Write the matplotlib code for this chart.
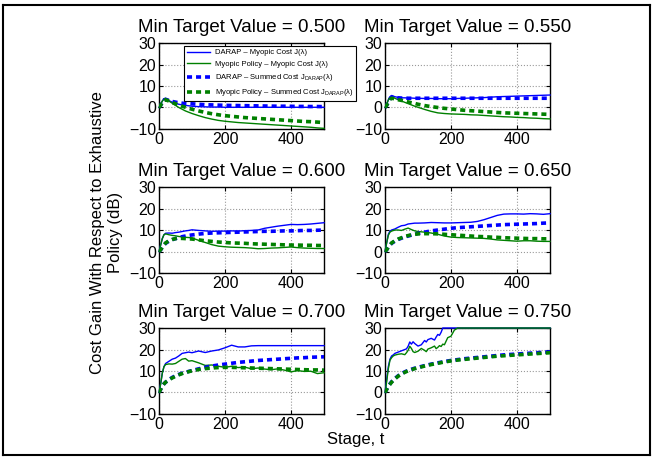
import matplotlib
matplotlib.use("Agg")
import matplotlib.pyplot as plt

plt.rcParams['font.family'] = ['Liberation Sans', 'DejaVu Sans']
plt.rcParams['mathtext.fontset'] = 'custom'
plt.rcParams['mathtext.rm'] = 'Liberation Sans'

# stage samples shared by most curves
stages = [0, 5, 10, 15, 20, 30, 40, 50, 60, 70, 80, 90, 100, 120, 140, 160, 180,
          200, 220, 240, 260, 280, 300, 320, 340, 360, 380, 400, 420, 440, 460, 480, 500]

# finer samples for the noisy curves at min target 0.750
stages_fine = [0, 5, 10, 15, 20, 25, 30, 40, 50, 60, 65, 70, 75, 80, 85, 90, 100, 110,
               120, 125, 130, 140, 150, 155, 160, 165, 170, 175, 180, 190, 200, 210, 220,
               240, 260, 280, 300, 320, 340, 360, 380, 400, 420, 440, 460, 480, 500]

targets = ['0.500', '0.550', '0.600', '0.650', '0.700', '0.750']

# min target 0.500
p500_darap_myopic = [0, 1.5, 3, 4, 4.2, 3.2, 2.5, 2, 1.5, 1.2, 1, 0.8, 0.6, 0.4, 0.3, 0.2, 0.2,
                     0.1, 0.1, 0.1, 0.1, 0.1, 0.1, 0.1, 0.1, 0.1, 0.1, 0.1, 0.1, 0.1, 0.1, 0.1, 0.1]
p500_myopic_myopic = [0, 1.5, 3, 4, 4.3, 3, 2, 1, 0, -0.8, -1.6, -2.2, -2.8, -3.8, -4.7, -5.4, -6,
                      -6.4, -6.7, -7, -7.2, -7.4, -7.6, -7.8, -8, -8.2, -8.4, -8.6, -8.8, -9, -9.2, -9.5, -9.7]
p500_darap_summed = [0, 1, 2.5, 3.5, 3.8, 3.3, 2.8, 2.5, 2.2, 2, 1.9, 1.8, 1.7, 1.5, 1.3, 1.2, 1.1,
                     1, 0.95, 0.9, 0.85, 0.8, 0.75, 0.7, 0.65, 0.6, 0.6, 0.55, 0.5, 0.5, 0.45, 0.45, 0.4]
p500_myopic_summed = [0, 1, 2.5, 3.3, 3.6, 3, 2.3, 1.7, 1.1, 0.6, 0.1, -0.4, -0.8, -1.6, -2.3, -2.9, -3.4,
                      -3.8, -4.1, -4.4, -4.7, -4.9, -5.1, -5.3, -5.5, -5.7, -5.9, -6.1, -6.3, -6.5, -6.6, -6.8, -7]

# min target 0.550
p550_darap_myopic = [0, 1.5, 3.5, 5, 5.6, 5, 4.7, 4.5, 4.5, 4.4, 4.4, 4.3, 4.3, 4.2, 4.2, 4.1, 4.1,
                     4.1, 4.2, 4.3, 4.4, 4.5, 4.6, 4.8, 5, 5.1, 5.2, 5.3, 5.4, 5.5, 5.6, 5.7, 5.8]
p550_myopic_myopic = [0, 1.5, 3.5, 4.6, 5, 4.3, 3.6, 3, 2.4, 1.8, 1.2, 0.6, 0.1, -0.9, -1.8, -2.5, -2.8,
                      -3, -3.1, -3.2, -3.4, -3.5, -3.7, -3.9, -4.1, -4.3, -4.4, -4.6, -4.7, -4.9, -5, -5.2, -5.3]
p550_darap_summed = [0, 1, 2.5, 4, 4.8, 4.7, 4.5, 4.4, 4.4, 4.3, 4.3, 4.3, 4.3, 4.3, 4.3, 4.3, 4.3,
                     4.3, 4.3, 4.3, 4.3, 4.3, 4.3, 4.3, 4.3, 4.3, 4.3, 4.3, 4.3, 4.3, 4.3, 4.3, 4.3]
p550_myopic_summed = [0, 1, 2.5, 3.8, 4.3, 4, 3.6, 3.3, 3, 2.6, 2.2, 1.9, 1.5, 0.9, 0.4, 0, -0.4,
                      -0.7, -1, -1.3, -1.5, -1.7, -1.9, -2.1, -2.3, -2.5, -2.6, -2.7, -2.8, -2.9, -3, -3.1, -3.2]

# min target 0.600
p600_darap_myopic = [0, 3, 6, 7.8, 8.5, 8.6, 8.5, 8.8, 9, 9.3, 9.6, 9.8, 10.1, 9.8, 9.6, 9.4, 9.5,
                     9.5, 9.6, 9.5, 9.7, 9.8, 10, 10.8, 11.3, 11.8, 12.2, 12.6, 12.5, 12.6, 12.8, 13.1, 13.4]
p600_myopic_myopic = [0, 3, 6, 7.8, 8.2, 7.8, 7.5, 7.3, 7, 6.8, 6.6, 6.5, 6.3, 5.2, 4.2, 3.2, 2.5,
                      2.2, 2, 1.9, 1.8, 1.6, 1.3, 1.4, 1.6, 1.7, 1.9, 2.1, 1.8, 1.6, 1.5, 1.4, 1.4]
p600_darap_summed = [0, 0.8, 2, 3, 3.8, 4.8, 5.5, 6, 6.5, 6.9, 7.2, 7.5, 7.7, 8.1, 8.4, 8.6, 8.7,
                     8.8, 8.9, 9, 9.1, 9.2, 9.3, 9.4, 9.4, 9.5, 9.6, 9.6, 9.7, 9.8, 9.8, 9.9, 10]
p600_myopic_summed = [0, 0.8, 2, 3, 4, 5, 5.6, 6, 6.1, 6.1, 6, 5.9, 5.8, 5.4, 5, 4.7, 4.4,
                      4.2, 4, 3.9, 3.8, 3.6, 3.5, 3.4, 3.3, 3.2, 3.1, 3, 3, 2.9, 2.9, 2.8, 2.8]

# min target 0.650
p650_darap_myopic = [0, 4, 8, 9.5, 10, 10.5, 11.3, 12, 12.2, 12.8, 13, 13.2, 13.2, 13.3, 13.5, 13.4, 13.3,
                     13.3, 13.4, 13.5, 13.6, 14, 14.8, 15.8, 16.8, 17.4, 17.5, 17.5, 17.4, 17.6, 17.5, 17.3, 17.6]
p650_myopic_myopic = [0, 4, 7.5, 9, 9.5, 10, 10, 9.8, 10.4, 10.9, 10.2, 9.6, 9.3, 9, 8.6, 8, 7.2,
                      6.7, 6.5, 6.4, 6.3, 6.2, 6.1, 5.8, 5.4, 5.2, 5, 4.8, 5, 5, 4.8, 4.7, 4.7]
p650_darap_summed = [0, 0.8, 2, 3, 3.8, 4.8, 5.6, 6.2, 6.8, 7.2, 7.6, 8, 8.4, 9, 9.6, 10, 10.4,
                     10.8, 11.1, 11.3, 11.5, 11.7, 11.9, 12.1, 12.3, 12.5, 12.6, 12.7, 12.8, 12.9, 13, 13.2, 13.3]
p650_myopic_summed = [0, 0.8, 2, 3, 4, 5, 5.8, 6.4, 7, 7.4, 7.8, 8, 8.2, 8.3, 8.3, 8.2, 8,
                      7.8, 7.6, 7.4, 7.2, 7, 6.9, 6.7, 6.6, 6.4, 6.3, 6.2, 6.1, 6, 6, 5.9, 5.9]

# min target 0.700
p700_darap_myopic = [0, 4, 9, 12, 13.5, 14.5, 15.5, 16, 17, 18.2, 18.5, 18.8, 18.5, 19.3, 18.6, 19.3, 19.8,
                     20.8, 22, 21.2, 21.2, 21.7, 21.8, 21.8, 21.8, 21.8, 21.8, 21.8, 21.8, 21.8, 21.8, 21.8, 21.8]
p700_myopic_myopic = [0, 4, 9, 12, 13, 13.3, 13.2, 13.5, 14.5, 15.5, 15.8, 14.6, 14.8, 13.8, 12.6, 12.8, 12.2,
                      11.7, 12.2, 11.6, 11.8, 11, 11.4, 10.9, 10.6, 11, 10.4, 9.6, 10.2, 9.8, 9.9, 8.8, 9.2]
p700_darap_summed = [0, 1.5, 3, 4, 4.8, 6, 7, 7.8, 8.4, 9, 9.4, 9.8, 10.2, 11, 11.7, 12.3, 12.8,
                     13.2, 13.6, 14, 14.3, 14.6, 14.9, 15.1, 15.3, 15.5, 15.7, 15.9, 16.1, 16.2, 16.4, 16.5, 16.6]
p700_myopic_summed = [0, 1.5, 3, 4, 4.8, 5.8, 6.8, 7.5, 8.2, 8.8, 9.3, 9.7, 10.1, 10.7, 11.1, 11.4, 11.6,
                      11.7, 11.7, 11.6, 11.5, 11.4, 11.3, 11.2, 11.1, 11, 10.9, 10.8, 10.7, 10.6, 10.5, 10.5, 10.4]

# min target 0.750 (myopic-cost curves on the fine stages)
p750_darap_myopic = [0, 6, 12, 15.5, 17, 17.5, 18.2, 18.8, 19.4, 20, 20.3, 21.5, 23.5, 22.5, 23.6, 22.8, 21.6, 22.2,
                     24.2, 23.5, 24.6, 25.2, 24.4, 25.8, 27, 26.6, 28, 30, 30, 30, 30, 30, 30,
                     30, 30, 30, 30, 30, 30, 30, 30, 30, 30, 30, 30, 30, 30]
p750_myopic_myopic = [0, 5, 11, 15, 16.2, 17, 17.4, 17.8, 18, 17.6, 18.5, 19.6, 21.5, 20.5, 19, 18.6, 19.2, 20.5,
                      19.6, 19, 20.2, 20.8, 21.6, 20.4, 21, 21.8, 21.4, 22.5, 22.2, 25.5, 26.2, 29, 30,
                      30, 30, 30, 30, 30, 30, 30, 30, 30, 30, 30, 30, 30, 30]
p750_darap_summed = [0, 1.5, 3, 4, 5, 6.5, 7.8, 8.8, 9.6, 10.3, 10.8, 11.3, 11.7, 12.5, 13.2, 13.8, 14.4,
                     14.9, 15.3, 15.7, 16, 16.3, 16.6, 16.9, 17.2, 17.5, 17.7, 17.9, 18.1, 18.3, 18.5, 18.7, 18.9]
p750_myopic_summed = [0, 1.4, 2.8, 3.8, 4.8, 6.3, 7.6, 8.6, 9.4, 10.1, 10.6, 11.1, 11.5, 12.3, 13, 13.6, 14.2,
                      14.7, 15.1, 15.4, 15.7, 16, 16.3, 16.6, 16.9, 17.1, 17.3, 17.5, 17.7, 17.9, 18.1, 18.3, 18.5]

panels = [
    (stages, p500_darap_myopic, p500_myopic_myopic, p500_darap_summed, p500_myopic_summed),
    (stages, p550_darap_myopic, p550_myopic_myopic, p550_darap_summed, p550_myopic_summed),
    (stages, p600_darap_myopic, p600_myopic_myopic, p600_darap_summed, p600_myopic_summed),
    (stages, p650_darap_myopic, p650_myopic_myopic, p650_darap_summed, p650_myopic_summed),
    (stages, p700_darap_myopic, p700_myopic_myopic, p700_darap_summed, p700_myopic_summed),
    (stages_fine, p750_darap_myopic, p750_myopic_myopic, p750_darap_summed, p750_myopic_summed),
]

legend_labels = [
    'DARAP \u2013 Myopic Cost J(\u03bb)',
    'Myopic Policy \u2013 Myopic Cost J(\u03bb)',
    'DARAP \u2013 Summed Cost J$_{\\mathrm{DARAP}}$(\u03bb)',
    'Myopic Policy \u2013 Summed Cost J$_{\\mathrm{DARAP}}$(\u03bb)',
]

blue = '#0000ff'
green = '#008000'

fig = plt.figure(figsize=(6.53, 4.65), dpi=100, facecolor='white')
# page border as the spines of a bare full-size axes
page = fig.add_axes([0.004, 0.022, 0.992, 0.968], zorder=-5)
page.set_xticks([])
page.set_yticks([])
for s in page.spines.values():
    s.set_linewidth(1.5)
    s.set_color('black')

lefts = [0.2435, 0.5896]
bottoms = [0.7226, 0.4129, 0.1097]
w, h = 0.2527, 0.1849

for i, (t_fine, dm, mm, ds, ms) in enumerate(panels):
    r, c = divmod(i, 2)
    ax = fig.add_axes([lefts[c], bottoms[r], w, h])
    ax.plot(t_fine, dm, color=blue, lw=1.0, label=legend_labels[0], zorder=3, clip_on=False)
    ax.plot(t_fine, mm, color=green, lw=1.0, label=legend_labels[1], zorder=3, clip_on=False)
    ax.plot(stages, ds, color=blue, lw=2.6, ls=(0, (1.4, 1.1)), label=legend_labels[2], zorder=3)
    ax.plot(stages, ms, color=green, lw=2.6, ls=(0, (1.4, 1.1)), label=legend_labels[3], zorder=3)
    ax.set_xlim(0, 500)
    ax.set_ylim(-10, 30)
    ax.set_xticks([0, 200, 400])
    ax.set_yticks([-10, 0, 10, 20, 30])
    ax.tick_params(direction='in', top=True, right=True, labelsize=11.5, length=3, pad=2)
    ax.grid(True, ls=':', color='#999999', lw=0.8)
    for s in ax.spines.values():
        s.set_linewidth(1.0)
    ax.set_title('Min Target Value = ' + targets[i], fontsize=13.5, pad=8)
    if i == 0:
        leg = ax.legend(loc='upper left', bbox_to_anchor=(0.152, 0.965), borderaxespad=0,
                        fontsize=5.5, handlelength=3.0, labelspacing=0.55, borderpad=0.4,
                        handletextpad=0.6, fancybox=False, framealpha=1, edgecolor='black')
        leg.get_frame().set_linewidth(0.8)
        leg.set_zorder(10)

fig.text(0.163, 0.5, 'Cost Gain With Respect to Exhaustive\nPolicy (dB)', rotation=90,
         ha='center', va='center', multialignment='center', fontsize=12)
fig.text(0.544, 0.054, 'Stage, t', ha='center', va='center', fontsize=12)

fig.savefig('out.png', dpi=100, facecolor='white')
